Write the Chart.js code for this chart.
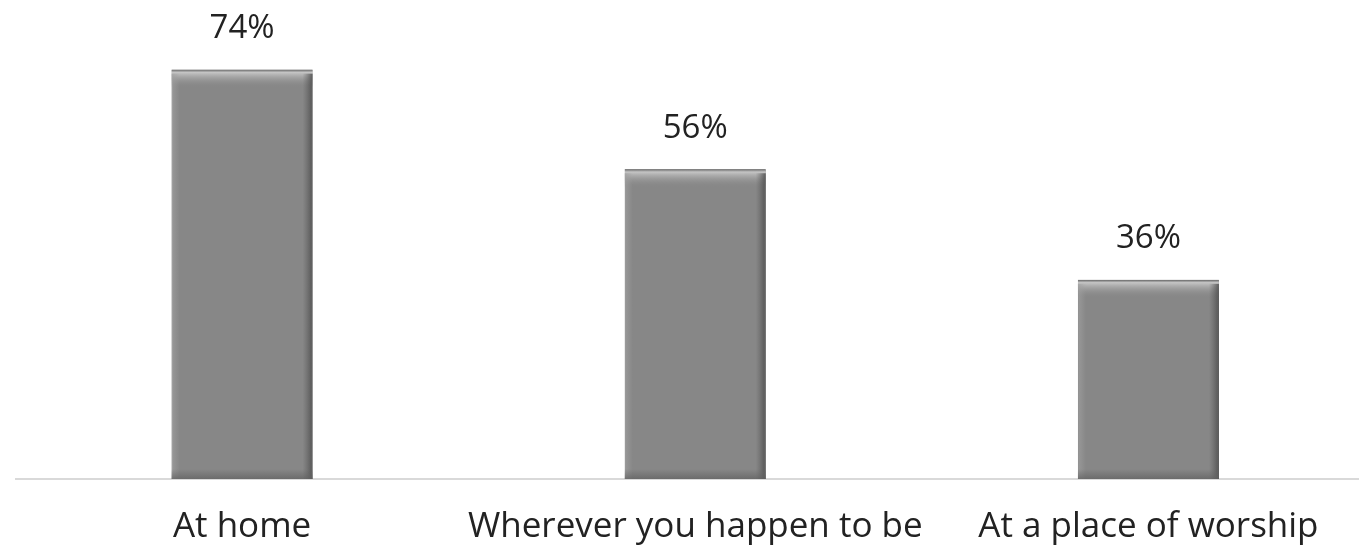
<!DOCTYPE html>
<html>
<head>
<meta charset="utf-8">
<script src="https://cdn.jsdelivr.net/npm/chart.js@4/dist/chart.umd.min.js"></script>
<style>
  html, body { margin: 0; padding: 0; background: #fff; overflow: hidden; }
  #wrap { position: relative; width: 1375px; height: 549px; }
</style>
</head>
<body>
<div id="wrap"><canvas id="chart"></canvas></div>
<script>
const categories = ['At home', 'Wherever you happen to be', 'At a place of worship'];
const shares = [74, 56, 36];
const valueLabels = ['74%', '56%', '36%'];

// bevel look: lighter top strip, darker right edge
const bevelBars = {
  id: 'bevelBars',
  afterDatasetsDraw(chart) {
    const ctx = chart.ctx;
    chart.getDatasetMeta(0).data.forEach(bar => {
      const left = bar.x - bar.width / 2, right = bar.x + bar.width / 2;
      const top = bar.y, bottom = bar.base;
      ctx.save();
      let g = ctx.createLinearGradient(0, top, 0, top + 18);
      g.addColorStop(0, 'rgba(100,100,100,0.9)');
      g.addColorStop(0.15, 'rgba(200,200,200,0.95)');
      g.addColorStop(0.5, 'rgba(170,170,170,0.6)');
      g.addColorStop(1, 'rgba(135,135,135,0)');
      ctx.fillStyle = g;
      ctx.fillRect(left, top, right - left, 18);
      g = ctx.createLinearGradient(right - 10, 0, right, 0);
      g.addColorStop(0, 'rgba(90,90,90,0)');
      g.addColorStop(1, 'rgba(70,70,70,0.8)');
      ctx.fillStyle = g;
      ctx.fillRect(right - 10, top + 4, 10, bottom - top - 4);
      g = ctx.createLinearGradient(left, 0, left + 8, 0);
      g.addColorStop(0, 'rgba(160,160,160,0.7)');
      g.addColorStop(1, 'rgba(160,160,160,0)');
      ctx.fillStyle = g;
      ctx.fillRect(left, top + 4, 8, bottom - top - 4);
      g = ctx.createLinearGradient(0, bottom - 10, 0, bottom);
      g.addColorStop(0, 'rgba(100,100,100,0)');
      g.addColorStop(1, 'rgba(95,95,95,0.7)');
      ctx.fillStyle = g;
      ctx.fillRect(left, bottom - 10, right - left, 10);
      ctx.restore();
    });
  }
};

const valueTags = {
  id: 'valueTags',
  afterDatasetsDraw(chart) {
    const ctx = chart.ctx;
    ctx.save();
    ctx.font = '33px "Open Sans", sans-serif';
    ctx.fillStyle = '#222';
    ctx.textAlign = 'center';
    ctx.textBaseline = 'middle';
    chart.getDatasetMeta(0).data.forEach((bar, i) => {
      ctx.fillText(valueLabels[i], bar.x, bar.y - 41);
    });
    ctx.restore();
  }
};

new Chart(document.getElementById('chart'), {
  type: 'bar',
  data: {
    labels: categories,
    datasets: [{
      data: shares,
      backgroundColor: '#878787',
      borderColor: '#6e6e6e',
      borderWidth: 1,
      categoryPercentage: 1,
      barPercentage: 0.311
    }]
  },
  options: {
    responsive: true,
    maintainAspectRatio: false,
    animation: false,
    layout: { padding: { left: 15.5, right: 0, top: 0, bottom: 0 } },
    plugins: { legend: { display: false }, tooltip: { enabled: false } },
    scales: {
      x: {
        grid: { display: false },
        border: { color: '#d9d9d9', width: 2 },
        ticks: {
          color: '#222',
          padding: 19,
          maxRotation: 0,
          autoSkip: false,
          font: { family: '"Open Sans", sans-serif', size: 35 }
        },
        afterFit(scale) { scale.height = 70; }
      },
      y: {
        display: false,
        min: 0,
        max: 86.6
      }
    }
  },
  plugins: [bevelBars, valueTags]
});
</script>
</body>
</html>
